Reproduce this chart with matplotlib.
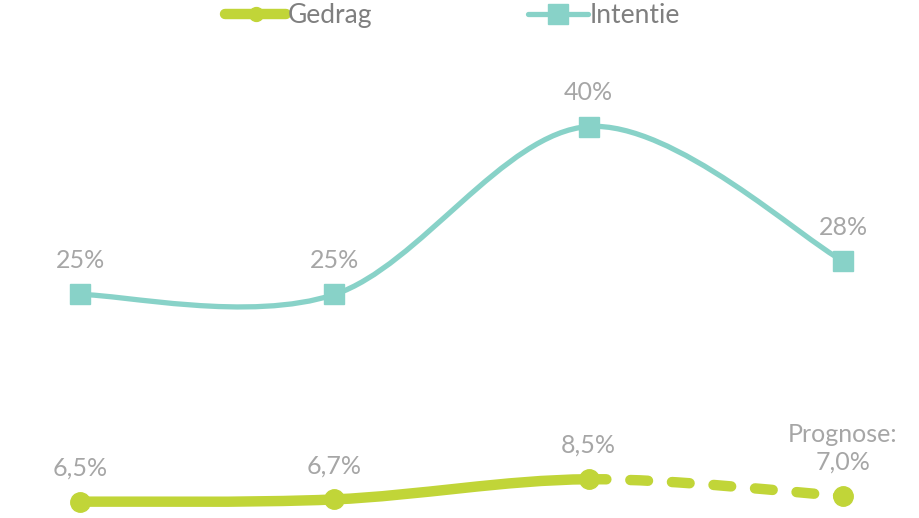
import matplotlib.pyplot as plt
from matplotlib.path import Path
from matplotlib.patches import PathPatch
from matplotlib.lines import Line2D

plt.rcParams["font.family"] = ["Lato", "DejaVu Sans"]

# data
periods = [0, 1, 2, 3]
intentie = [25, 25, 40, 28]
gedrag = [6.5, 6.7, 8.5, 7.0]
intentie_labels = ["25%", "25%", "40%", "28%"]
gedrag_labels = ["6,5%", "6,7%", "8,5%", "Prognose:\n7,0%"]

GREEN = "#C1D538"
TEAL = "#88D2C8"
GREY = "#A6A6A6"


def smooth_segments(xs, ys):
    # Catmull-Rom style bezier control points, like Excel's smoothed lines
    segs = []
    n = len(xs)
    for i in range(n - 1):
        i0 = max(i - 1, 0)
        i3 = min(i + 2, n - 1)
        c1 = (xs[i] + (xs[i + 1] - xs[i0]) / 6, ys[i] + (ys[i + 1] - ys[i0]) / 6)
        c2 = (xs[i + 1] - (xs[i3] - xs[i]) / 6, ys[i + 1] - (ys[i3] - ys[i]) / 6)
        segs.append([(xs[i], ys[i]), c1, c2, (xs[i + 1], ys[i + 1])])
    return segs


def segs_to_path(segs):
    verts = [segs[0][0]]
    codes = [Path.MOVETO]
    for s in segs:
        verts += s[1:]
        codes += [Path.CURVE4] * 3
    return Path(verts, codes)


fig = plt.figure(figsize=(9.2, 5.18), dpi=100)
ax = fig.add_axes([0, 0, 1, 1])
ax.set_xlim(-0.315, 3.303)
ax.set_ylim(5.04, 51.3)
ax.axis("off")

# Intentie
iseg = smooth_segments(periods, intentie)
ax.add_patch(PathPatch(segs_to_path(iseg), fill=False, edgecolor=TEAL, lw=3.8, capstyle="round"))
ax.plot(periods, intentie, ls="none", marker="s", ms=14, color=TEAL)

# Gedrag: measured part solid, forecast dashed
gseg = smooth_segments(periods, gedrag)
ax.add_patch(PathPatch(segs_to_path(gseg[:2]), fill=False, edgecolor=GREEN, lw=7.5, capstyle="round"))
ax.add_patch(PathPatch(segs_to_path(gseg[2:]), fill=False, edgecolor=GREEN, lw=7.5,
                       capstyle="round", linestyle=(0, (1.7, 2.3))))
ax.plot(periods, gedrag, ls="none", marker="o", ms=14, color=GREEN)

for x, y, t in zip(periods, intentie, intentie_labels):
    ax.annotate(t, (x, y), xytext=(0, 16), textcoords="offset points",
                ha="center", va="bottom", fontsize=18, color=GREY)
for x, y, t in zip(periods, gedrag, gedrag_labels):
    ax.annotate(t, (x, y), xytext=(0, 16), textcoords="offset points",
                ha="center", va="bottom", fontsize=18, color=GREY, linespacing=1.25)

handles = [
    Line2D([], [], color=GREEN, lw=7.5, marker="o", ms=10, solid_capstyle="round"),
    Line2D([], [], color=TEAL, lw=3.8, marker="s", ms=14, solid_capstyle="round"),
]
fig.legend(handles, ["Gedrag", "Intentie"], loc="upper center", bbox_to_anchor=(0.492, 1.04),
           ncol=2, frameon=False, fontsize=19, labelcolor="#7F7F7F",
           handlelength=2.3, handletextpad=0.05, columnspacing=5.9)

fig.savefig("out.png", dpi=100)
